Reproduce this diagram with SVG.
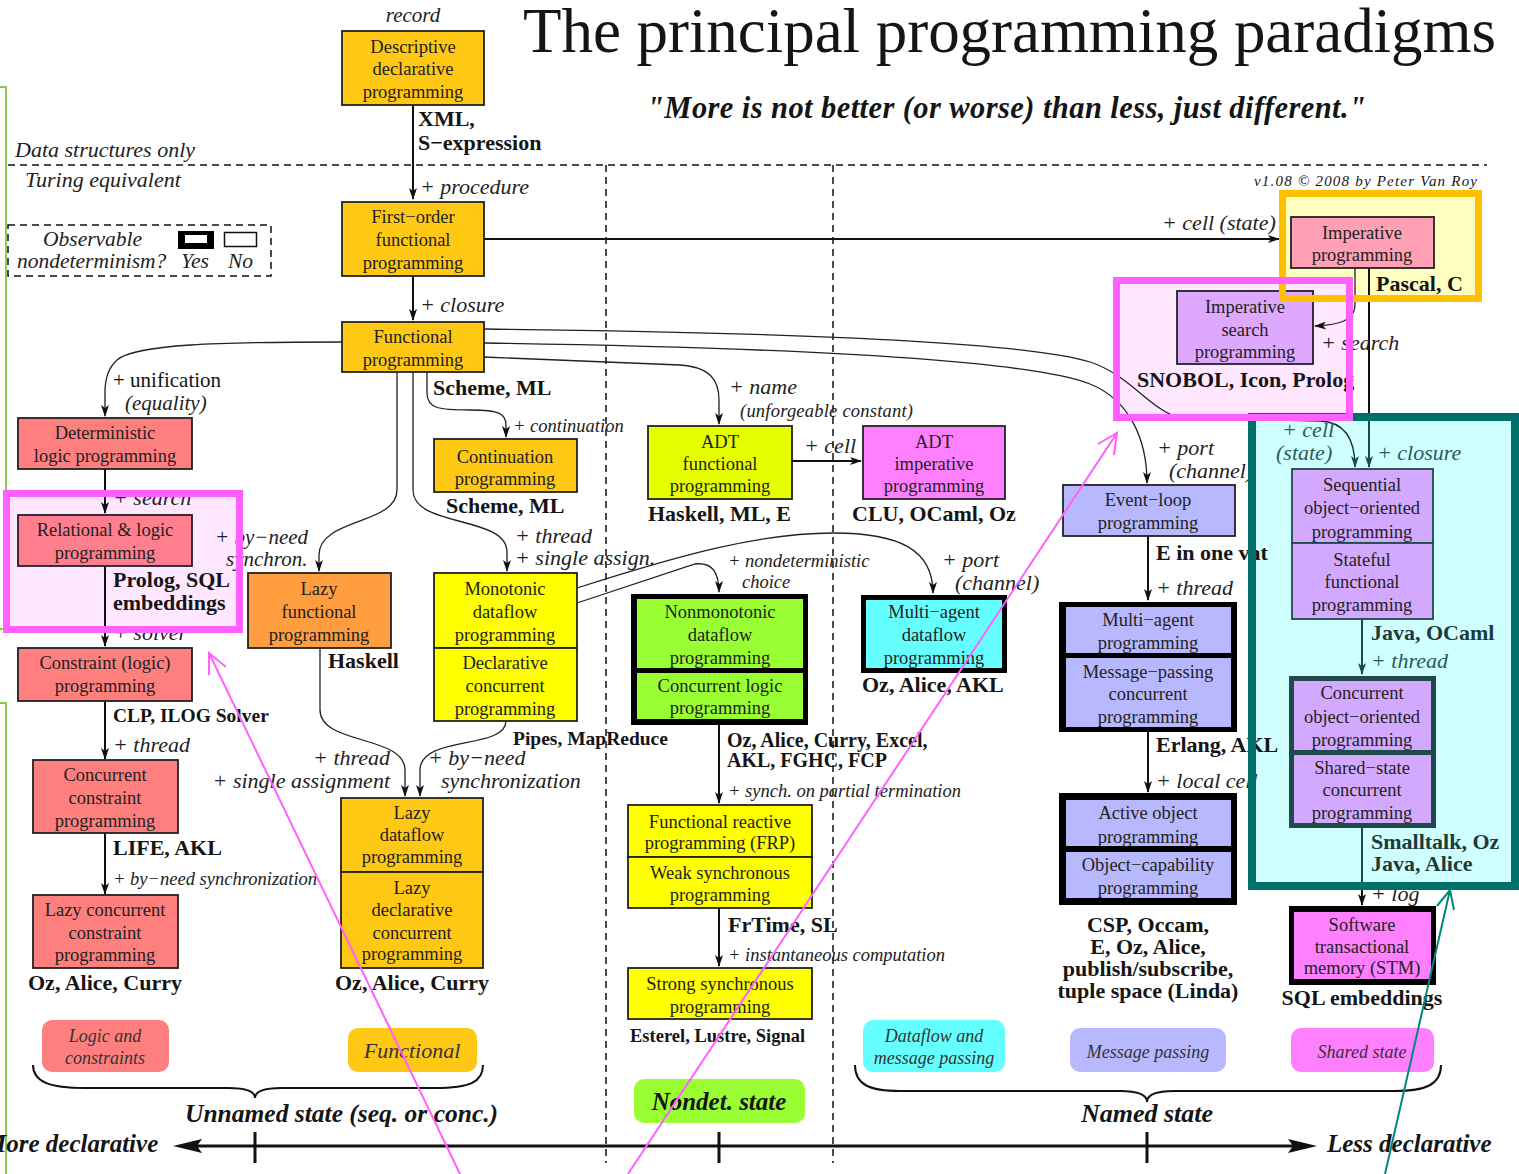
<svg xmlns="http://www.w3.org/2000/svg" width="1519" height="1174" viewBox="0 0 1519 1174">
<defs>
<style>
text{font-family:"Liberation Serif","Times New Roman",serif;fill:#151515}
.t{font-size:18.5px;text-anchor:middle;fill:#222}
.b{font-size:22px;font-weight:bold}
.bs{font-size:19.5px;font-weight:bold}
.i{font-size:22px;font-style:italic;fill:#222}
.s{font-size:18.5px;font-style:italic;fill:#222}
.bi{font-weight:bold;font-style:italic;font-size:25px}
.box{stroke:#222;stroke-width:1.8}
.tbox{stroke:#1E4A4A;stroke-width:1.8}
.c{fill:none;stroke:#222;stroke-width:1.3}
.m{fill:none;stroke:#111;stroke-width:2}
.mt{fill:none;stroke:#1E4A4A;stroke-width:2}
.d{fill:none;stroke:#111;stroke-width:1.5;stroke-dasharray:7 5}
.cat{font-size:18px;font-style:italic;text-anchor:middle;fill:#333}
.ann{fill:none;stroke-width:2}
</style>
<marker id="a" viewBox="0 0 12 8" refX="11" refY="4" markerWidth="12" markerHeight="8" markerUnits="userSpaceOnUse" orient="auto"><path d="M0,0L12,4L0,8L3,4z" fill="#111"/></marker>
<marker id="at" viewBox="0 0 12 8" refX="11" refY="4" markerWidth="12" markerHeight="8" markerUnits="userSpaceOnUse" orient="auto"><path d="M0,0L12,4L0,8L3,4z" fill="#1E4A4A"/></marker>
</defs>
<rect width="1519" height="1174" fill="#fff"/>

<g id="frame-fills">
<rect x="1282.5" y="193.5" width="196" height="105" fill="#FFFFC0"/>
<rect x="1252" y="417" width="263" height="469" fill="#D0FFFF"/>
<rect x="1116.5" y="280.5" width="233" height="137" fill="#FFE8FF"/>
<rect x="6.5" y="493.5" width="233" height="136" fill="#FFE8FF"/>
</g>

<g id="green-lines" fill="none" stroke="#8CCB50" stroke-width="2">
<path d="M0,87H6V629H0"/>
<path d="M0,703H6V1174"/>
</g>

<g id="regions">
<path class="d" d="M8,165H1487"/>
<path class="d" d="M606,165V1163"/>
<path class="d" d="M833,165V1163"/>
<text x="15" y="157" class="i">Data structures only</text>
<text x="25" y="187" class="i">Turing equivalent</text>
<text x="1254" y="186" style="font-size:15px;font-style:italic" textLength="223">v1.08 © 2008 by Peter Van Roy</text>
</g>

<g id="title">
<text x="523" y="52" style="font-size:63px" textLength="973">The principal programming paradigms</text>
<text x="647" y="118" style="font-size:30.5px;font-weight:bold;font-style:italic" textLength="719">"More is not better (or worse) than less, just different."</text>
</g>

<g id="legend">
<rect x="8" y="225" width="263" height="51" fill="none" stroke="#111" stroke-width="1.5" stroke-dasharray="7 5"/>
<text x="43" y="246" class="i" style="font-size:21.5px">Observable</text>
<text x="17" y="268" class="i" style="font-size:21.5px">nondeterminism?</text>
<text x="181" y="268" class="i" style="font-size:21.5px">Yes</text>
<text x="228" y="268" class="i" style="font-size:21.5px">No</text>
<rect x="178" y="231" width="36" height="18" fill="#000"/>
<rect x="185" y="235" width="22" height="8" fill="#fff"/>
<rect x="224.5" y="232.5" width="32" height="14" fill="#fff" stroke="#111" stroke-width="1.5"/>
</g>

<g id="connectors">
<path class="m" d="M413,105V199" marker-end="url(#a)"/>
<path class="m" d="M413,276V320" marker-end="url(#a)"/>
<path class="m" d="M484,239H1279" marker-end="url(#a)"/>
<path class="c" d="M342,342C220,342 135,344 117,360C107,369 105,380 105,392V416" marker-end="url(#a)"/>
<path class="c" d="M397,372V490C397,525 319,518 319,555V571" marker-end="url(#a)"/>
<path class="c" d="M413,372V490C413,528 507,515 507,552V571" marker-end="url(#a)"/>
<path class="c" d="M427,372V393C427,409 440,410 470,410C500,410 506,414 506,425V437" marker-end="url(#a)"/>
<path class="c" d="M484,357L680,365C710,367 719,380 719,400V424" marker-end="url(#a)"/>
<path class="c" d="M484,343C750,347 1020,357 1090,384C1130,400 1147,440 1147,483" marker-end="url(#a)"/>
<path class="c" d="M484,329C750,332 1020,340 1090,362C1130,375 1150,410 1180,418L1320,421C1345,422 1355,440 1355,467" marker-end="url(#at)"/>
<path class="m" d="M105,469V513" marker-end="url(#a)"/>
<path class="m" d="M105,566V646" marker-end="url(#a)"/>
<path class="m" d="M105,701V759" marker-end="url(#a)"/>
<path class="m" d="M105,833V894" marker-end="url(#a)"/>
<path class="c" d="M320,648V710C320,745 405,735 405,770V796" marker-end="url(#a)"/>
<path class="c" d="M506,721C506,750 420,735 420,770V796" marker-end="url(#a)"/>
<path class="c" d="M577,588C680,555 760,533 833,533C900,533 933,550 933,593" marker-end="url(#a)"/>
<path class="c" d="M577,603L695,564C712,562 719,572 719,592" marker-end="url(#a)"/>
<path class="m" d="M792,461H861" marker-end="url(#a)"/>
<path class="m" d="M719,725V803" marker-end="url(#a)"/>
<path class="m" d="M719,908V966" marker-end="url(#a)"/>
<path class="m" d="M1148,536V600" marker-end="url(#a)"/>
<path class="m" d="M1148,732V792" marker-end="url(#a)"/>
<path class="m" d="M1369,268V417"/>
<path class="mt" d="M1369,417V467" marker-end="url(#at)"/>
<path class="c" d="M1355,268V305C1355,320 1340,325 1315,326" marker-end="url(#a)"/>
<path class="mt" d="M1362,619V674" marker-end="url(#at)"/>
<path class="mt" d="M1362,828V886"/>
<path class="m" d="M1362,886V905" marker-end="url(#a)"/>
</g>

<g id="n-descriptive">
<rect x="342" y="31" width="142" height="74" fill="#FFC814" class="box"/>
<text class="t" x="413" y="53">Descriptive</text><text class="t" x="413" y="75">declarative</text><text class="t" x="413" y="98">programming</text>
</g>
<g id="n-firstorder">
<rect x="342" y="202" width="142" height="74" fill="#FFC814" class="box"/>
<text class="t" x="413" y="223">First−order</text><text class="t" x="413" y="246">functional</text><text class="t" x="413" y="269">programming</text>
</g>
<g id="n-functional">
<rect x="342" y="322" width="142" height="50" fill="#FFC814" class="box"/>
<text class="t" x="413" y="343">Functional</text><text class="t" x="413" y="366">programming</text>
</g>
<g id="n-imperative">
<rect x="1291" y="217" width="143" height="51" fill="#FFA0B4" class="box"/>
<text class="t" x="1362" y="239">Imperative</text><text class="t" x="1362" y="261">programming</text>
</g>
<g id="n-impsearch">
<rect x="1177" y="291" width="136" height="73" fill="#DFA8FF" class="box"/>
<text class="t" x="1245" y="313">Imperative</text><text class="t" x="1245" y="336">search</text><text class="t" x="1245" y="358">programming</text>
</g>
<g id="n-deterministic">
<rect x="18" y="418" width="174" height="51" fill="#FF7F7F" class="box"/>
<text class="t" x="105" y="439">Deterministic</text><text class="t" x="105" y="462">logic programming</text>
</g>
<g id="n-relational">
<rect x="18" y="515" width="174" height="51" fill="#FF7F8F" class="box"/>
<text class="t" x="105" y="536">Relational &amp; logic</text><text class="t" x="105" y="559">programming</text>
</g>
<g id="n-constraint">
<rect x="18" y="648" width="174" height="53" fill="#FF7F7F" class="box"/>
<text class="t" x="105" y="669">Constraint (logic)</text><text class="t" x="105" y="692">programming</text>
</g>
<g id="n-concconstraint">
<rect x="33" y="760" width="145" height="73" fill="#FF7F7F" class="box"/>
<text class="t" x="105" y="781">Concurrent</text><text class="t" x="105" y="804">constraint</text><text class="t" x="105" y="827">programming</text>
</g>
<g id="n-lazyconcconstraint">
<rect x="33" y="895" width="145" height="73" fill="#FF7F7F" class="box"/>
<text class="t" x="105" y="916">Lazy concurrent</text><text class="t" x="105" y="939">constraint</text><text class="t" x="105" y="961">programming</text>
</g>
<g id="n-lazyfunctional">
<rect x="248" y="573" width="143" height="75" fill="#FF9D3F" class="box"/>
<text class="t" x="319" y="595">Lazy</text><text class="t" x="319" y="618">functional</text><text class="t" x="319" y="641">programming</text>
</g>
<g id="n-continuation">
<rect x="434" y="439" width="143" height="53" fill="#FFC814" class="box"/>
<text class="t" x="505" y="463">Continuation</text><text class="t" x="505" y="485">programming</text>
</g>
<g id="n-monotonic">
<rect x="434" y="573" width="143" height="75" fill="#FFFF00" class="box"/>
<rect x="434" y="648" width="143" height="73" fill="#FFFF00" class="box"/>
<text class="t" x="505" y="595">Monotonic</text><text class="t" x="505" y="618">dataflow</text><text class="t" x="505" y="641">programming</text>
<text class="t" x="505" y="669">Declarative</text><text class="t" x="505" y="692">concurrent</text><text class="t" x="505" y="715">programming</text>
</g>
<g id="n-lazydataflow">
<rect x="341" y="798" width="142" height="74" fill="#FFC814" class="box"/>
<rect x="341" y="872" width="142" height="96" fill="#FFC814" class="box"/>
<text class="t" x="412" y="819">Lazy</text><text class="t" x="412" y="841">dataflow</text><text class="t" x="412" y="863">programming</text>
<text class="t" x="412" y="894">Lazy</text><text class="t" x="412" y="916">declarative</text><text class="t" x="412" y="939">concurrent</text><text class="t" x="412" y="960">programming</text>
</g>
<g id="n-adtfunctional">
<rect x="648" y="426" width="144" height="73" fill="#E6FF00" class="box"/>
<text class="t" x="720" y="448">ADT</text><text class="t" x="720" y="470">functional</text><text class="t" x="720" y="492">programming</text>
</g>
<g id="n-adtimperative">
<rect x="863" y="426" width="142" height="73" fill="#FF80FF" class="box"/>
<text class="t" x="934" y="448">ADT</text><text class="t" x="934" y="470">imperative</text><text class="t" x="934" y="492">programming</text>
</g>
<g id="n-nonmonotonic">
<rect x="631" y="594" width="177" height="131" fill="#000"/>
<rect x="637" y="599" width="166" height="69" fill="#99FF33"/>
<rect x="637" y="673" width="166" height="46" fill="#99FF33"/>
<text class="t" x="720" y="618">Nonmonotonic</text><text class="t" x="720" y="641">dataflow</text><text class="t" x="720" y="664">programming</text>
<text class="t" x="720" y="692">Concurrent logic</text><text class="t" x="720" y="714">programming</text>
</g>
<g id="n-multiagentdataflow">
<rect x="861" y="595" width="146" height="78" fill="#000"/>
<rect x="866" y="600" width="136" height="68" fill="#66FFFF"/>
<text class="t" x="934" y="618">Multi−agent</text><text class="t" x="934" y="641">dataflow</text><text class="t" x="934" y="664">programming</text>
</g>
<g id="n-frp">
<rect x="628" y="805" width="184" height="52" fill="#FFFF00" class="box"/>
<rect x="628" y="857" width="184" height="51" fill="#FFFF00" class="box"/>
<text class="t" x="720" y="828">Functional reactive</text><text class="t" x="720" y="849">programming (FRP)</text>
<text class="t" x="720" y="879">Weak synchronous</text><text class="t" x="720" y="901">programming</text>
</g>
<g id="n-strong">
<rect x="628" y="968" width="184" height="51" fill="#FFFF00" class="box"/>
<text class="t" x="720" y="990">Strong synchronous</text><text class="t" x="720" y="1013">programming</text>
</g>
<g id="n-eventloop">
<rect x="1063" y="485" width="172" height="51" fill="#B8B8FF" class="box"/>
<text class="t" x="1148" y="506">Event−loop</text><text class="t" x="1148" y="529">programming</text>
</g>
<g id="n-multiagent">
<rect x="1059" y="602" width="178" height="130" fill="#000"/>
<rect x="1066" y="607" width="165" height="46" fill="#B8B8FF"/>
<rect x="1066" y="658" width="165" height="69" fill="#B8B8FF"/>
<text class="t" x="1148" y="626">Multi−agent</text><text class="t" x="1148" y="649">programming</text>
<text class="t" x="1148" y="678">Message−passing</text><text class="t" x="1148" y="700">concurrent</text><text class="t" x="1148" y="723">programming</text>
</g>
<g id="n-activeobject">
<rect x="1059" y="793" width="178" height="112" fill="#000"/>
<rect x="1066" y="800" width="165" height="46" fill="#B8B8FF"/>
<rect x="1066" y="852" width="165" height="46" fill="#B8B8FF"/>
<text class="t" x="1148" y="819">Active object</text><text class="t" x="1148" y="843">programming</text>
<text class="t" x="1148" y="871">Object−capability</text><text class="t" x="1148" y="894">programming</text>
</g>
<g id="n-seqoo">
<rect x="1292" y="469" width="141" height="74" fill="#D3A9FF" class="tbox"/>
<rect x="1292" y="543" width="141" height="76" fill="#D3A9FF" class="tbox"/>
<text class="t" x="1362" y="491">Sequential</text><text class="t" x="1362" y="514">object−oriented</text><text class="t" x="1362" y="538">programming</text>
<text class="t" x="1362" y="566">Stateful</text><text class="t" x="1362" y="588">functional</text><text class="t" x="1362" y="611">programming</text>
</g>
<g id="n-concoo">
<rect x="1289" y="676" width="147" height="152" fill="#1E4A4A"/>
<rect x="1294" y="681" width="137" height="69" fill="#D3A9FF"/>
<rect x="1294" y="755" width="137" height="68" fill="#D3A9FF"/>
<text class="t" x="1362" y="699">Concurrent</text><text class="t" x="1362" y="723">object−oriented</text><text class="t" x="1362" y="746">programming</text>
<text class="t" x="1362" y="774">Shared−state</text><text class="t" x="1362" y="796">concurrent</text><text class="t" x="1362" y="819">programming</text>
</g>
<g id="n-stm">
<rect x="1289" y="906" width="147" height="79" fill="#000"/>
<rect x="1294" y="912" width="137" height="67" fill="#FF80FF"/>
<text class="t" x="1362" y="931">Software</text><text class="t" x="1362" y="953">transactional</text><text class="t" x="1362" y="974">memory (STM)</text>
</g>

<g id="edge-labels">
<text x="413" y="22" class="i" text-anchor="middle" style="font-size:21px">record</text>
<text x="418" y="126" class="b">XML,</text>
<text x="418" y="150" class="b">S−expression</text>
<text x="420" y="194" class="i">+ procedure</text>
<text x="420" y="312" class="i">+ closure</text>
<text x="1162" y="230" class="i">+ cell (state)</text>
<text x="1376" y="291" class="b">Pascal, C</text>
<text x="1321" y="350" class="i">+ search</text>
<text x="1137" y="387" class="b">SNOBOL, Icon, Prolog</text>
<text x="433" y="395" class="b">Scheme, ML</text>
<text x="113" y="387" style="font-size:21px">+ unification</text>
<text x="125" y="410" class="i" style="font-size:21px">(equality)</text>
<text x="113" y="505" class="i">+ search</text>
<text x="113" y="587" class="b">Prolog, SQL</text>
<text x="113" y="610" class="b">embeddings</text>
<text x="113" y="640" class="i">+ solver</text>
<text x="215" y="544" class="i" style="font-size:21px">+ by−need</text>
<text x="226" y="566" class="i" style="font-size:21px">synchron.</text>
<text x="328" y="668" class="b">Haskell</text>
<text x="113" y="722" class="bs">CLP, ILOG Solver</text>
<text x="113" y="752" class="i">+ thread</text>
<text x="113" y="855" class="b">LIFE, AKL</text>
<text x="113" y="885" class="s">+ by−need synchronization</text>
<text x="28" y="990" class="b">Oz, Alice, Curry</text>
<text x="513" y="432" class="s">+ continuation</text>
<text x="446" y="513" class="b">Scheme, ML</text>
<text x="515" y="543" class="i">+ thread</text>
<text x="515" y="565" class="i">+ single assign.</text>
<text x="513" y="745" class="bs">Pipes, MapReduce</text>
<text x="390" y="765" class="i" text-anchor="end">+ thread</text>
<text x="390" y="788" class="i" text-anchor="end">+ single assignment</text>
<text x="428" y="765" class="i">+ by−need</text>
<text x="441" y="788" class="i">synchronization</text>
<text x="335" y="990" class="b">Oz, Alice, Curry</text>
<text x="729" y="394" class="i">+ name</text>
<text x="740" y="417" class="s" textLength="173">(unforgeable constant)</text>
<text x="804" y="453" class="i">+ cell</text>
<text x="648" y="521" class="b">Haskell, ML, E</text>
<text x="852" y="521" class="b">CLU, OCaml, Oz</text>
<text x="728" y="567" class="s">+ nondeterministic</text>
<text x="742" y="588" class="s">choice</text>
<text x="942" y="567" class="i">+ port</text>
<text x="955" y="590" class="i">(channel)</text>
<text x="862" y="692" class="b">Oz, Alice, AKL</text>
<text x="727" y="747" class="bs" style="font-size:20px">Oz, Alice, Curry, Excel,</text>
<text x="727" y="767" class="bs" style="font-size:20px">AKL, FGHC, FCP</text>
<text x="728" y="797" class="s">+ synch. on partial termination</text>
<text x="728" y="932" class="b">FrTime, SL</text>
<text x="728" y="961" class="s">+ instantaneous computation</text>
<text x="630" y="1042" class="bs" style="font-size:18.5px">Esterel, Lustre, Signal</text>
<text x="1157" y="455" class="i">+ port</text>
<text x="1169" y="478" class="i">(channel)</text>
<text x="1156" y="560" class="b">E in one vat</text>
<text x="1156" y="595" class="i">+ thread</text>
<text x="1156" y="752" class="b">Erlang, AKL</text>
<text x="1156" y="788" class="i">+ local cell</text>
<text x="1148" y="932" class="b" text-anchor="middle">CSP, Occam,</text>
<text x="1148" y="954" class="b" text-anchor="middle">E, Oz, Alice,</text>
<text x="1148" y="976" class="b" text-anchor="middle">publish/subscribe,</text>
<text x="1148" y="998" class="b" text-anchor="middle">tuple space (Linda)</text>
<text x="1282" y="437" class="i" style="fill:#2A5A5A">+ cell</text>
<text x="1276" y="460" class="i" style="fill:#2A5A5A">(state)</text>
<text x="1377" y="460" class="i" style="fill:#2A5A5A">+ closure</text>
<text x="1371" y="640" class="b" style="fill:#1E3A3A">Java, OCaml</text>
<text x="1371" y="668" class="i" style="fill:#2A5A5A">+ thread</text>
<text x="1371" y="849" class="b" style="fill:#1E3A3A">Smalltalk, Oz</text>
<text x="1371" y="871" class="b" style="fill:#1E3A3A">Java, Alice</text>
<text x="1371" y="901" class="i">+ log</text>
<text x="1362" y="1005" class="b" text-anchor="middle">SQL embeddings</text>
</g>

<g id="frame-strokes" fill="none">
<rect x="1282.5" y="193.5" width="196" height="105" stroke="#FFC000" stroke-width="7"/>
<rect x="1252" y="417" width="263" height="469" stroke="#00706A" stroke-width="8"/>
<rect x="1116.5" y="280.5" width="233" height="137" stroke="#FF60FF" stroke-width="7"/>
<rect x="6.5" y="493.5" width="233" height="136" stroke="#FF60FF" stroke-width="7"/>
</g>

<g id="categories">
<rect x="42" y="1020" width="127" height="52" rx="10" fill="#FF7F7F"/>
<text class="cat" x="105" y="1042">Logic and</text><text class="cat" x="105" y="1064">constraints</text>
<rect x="348" y="1028" width="129" height="44" rx="10" fill="#FFC814"/>
<text class="cat" x="412" y="1058" style="font-size:22px">Functional</text>
<rect x="634" y="1079" width="171" height="44" rx="10" fill="#99FF33"/>
<text x="719" y="1110" class="bi" text-anchor="middle">Nondet. state</text>
<rect x="863" y="1020" width="142" height="52" rx="10" fill="#66FFFF"/>
<text class="cat" x="934" y="1042">Dataflow and</text><text class="cat" x="934" y="1064">message passing</text>
<rect x="1070" y="1028" width="156" height="44" rx="10" fill="#B8B8FF"/>
<text class="cat" x="1148" y="1058">Message passing</text>
<rect x="1291" y="1028" width="143" height="44" rx="10" fill="#FF80FF"/>
<text class="cat" x="1362" y="1058">Shared state</text>
</g>

<g id="axis">
<path fill="none" stroke="#111" stroke-width="2" d="M33,1065C33,1082 50,1088 85,1088L228,1088C248,1088 255,1092 255,1098C255,1092 262,1088 282,1088L435,1088C470,1088 483,1082 483,1065"/>
<path fill="none" stroke="#111" stroke-width="2" d="M855,1065C855,1085 870,1091 900,1091L1120,1091C1140,1091 1147,1095 1147,1102C1147,1095 1154,1091 1174,1091L1395,1091C1425,1091 1441,1085 1441,1065"/>
<text x="185" y="1122" class="bi" style="font-size:25.5px">Unnamed state (seq. or conc.)</text>
<text x="1147" y="1122" class="bi" text-anchor="middle" style="font-size:26px">Named state</text>
<path d="M195,1146H1295" stroke="#111" stroke-width="3"/>
<path d="M173,1146L202,1139L197,1146L202,1153z" fill="#111"/>
<path d="M1317,1146L1288,1139L1293,1146L1288,1153z" fill="#111"/>
<path d="M255,1132V1163M719,1132V1163M1147,1132V1163" stroke="#111" stroke-width="3"/>
<text x="-16" y="1152" class="bi">More declarative</text>
<text x="1327" y="1152" class="bi">Less declarative</text>
</g>

<g id="annotations">
<path class="ann" stroke="#FF60FF" d="M460,1174L209,653M226,667L209,653L209,675"/>
<path class="ann" stroke="#FF60FF" d="M628,1174L1117,433M1098,444L1117,433L1114,455"/>
<path class="ann" stroke="#00897B" d="M1385,1174L1450,890M1437,906L1450,890L1454,910"/>
</g>
</svg>
